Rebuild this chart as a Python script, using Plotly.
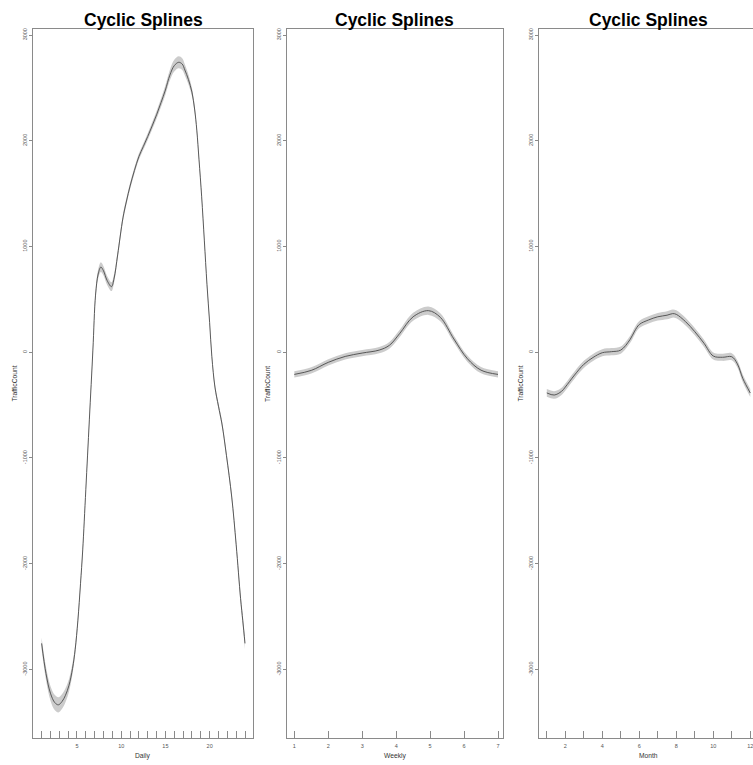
import plotly.graph_objects as go

# ---------------- data ----------------
daily_x = [1.0, 1.5, 2.0, 2.5, 2.9, 3.3, 3.7, 4.1, 4.5, 4.8, 5.1, 5.4, 5.65, 6.0, 6.4, 6.8,
           7.1, 7.4, 7.7, 8.0, 8.4, 8.9, 9.2, 9.6, 10.2, 10.6, 11.0, 11.5, 12.0, 12.5, 13.0,
           13.5, 14.0, 14.5, 15.0, 15.5, 16.0, 16.5, 16.9, 17.2, 17.6, 18.0, 18.3, 18.55,
           18.8, 19.1, 19.4, 19.7, 20.0, 20.25, 20.6, 21.0, 21.4, 21.9, 22.5, 23.0, 23.5,
           23.75, 24.0]
daily_fit = [-2754, -3040, -3225, -3315, -3335, -3305, -3245, -3150, -2990, -2810, -2540,
             -2190, -1870, -1300, -640, 20, 540, 740, 805, 770, 680, 620, 700, 920, 1270,
             1430, 1570, 1720, 1850, 1945, 2040, 2140, 2245, 2360, 2480, 2620, 2710, 2742,
             2725, 2669, 2580, 2460, 2300, 2100, 1820, 1470, 1060, 640, 280, -40, -330,
             -510, -680, -975, -1370, -1820, -2330, -2540, -2754]
daily_se = [55, 62, 68, 72, 72, 70, 66, 60, 52, 45, 40, 36, 32, 30, 30, 32, 38, 44, 46, 44,
            42, 42, 40, 36, 32, 30, 30, 30, 30, 30, 32, 34, 36, 40, 44, 50, 55, 56, 55, 52,
            46, 40, 36, 32, 30, 30, 30, 30, 30, 30, 30, 30, 30, 32, 34, 38, 44, 48, 55]

weekly_x = [1.0, 1.5, 2.0, 2.5, 3.0, 3.5, 3.8, 4.1, 4.5, 4.95, 5.3, 5.7, 6.1, 6.5, 7.0]
weekly_fit = [-210, -172, -96, -40, -8, 20, 65, 175, 335, 393, 330, 125, -62, -170, -210]
weekly_se = [30, 30, 30, 30, 30, 30, 32, 34, 38, 40, 38, 34, 30, 30, 30]

month_x = [1.0, 1.4, 1.8, 2.0, 2.5, 3.0, 3.5, 4.0, 4.5, 5.0, 5.5, 5.75, 6.0, 6.5, 7.0, 7.5,
           7.8, 8.0, 8.5, 9.0, 9.5, 10.0, 10.5, 11.0, 11.3, 11.6, 12.0]
month_fit = [-385, -405, -370, -330, -216, -115, -50, -5, 5, 20, 120, 200, 262, 305, 335,
             350, 365, 358, 289, 194, 84, -36, -48, -43, -110, -250, -386]
month_se = [36, 36, 34, 34, 34, 34, 34, 34, 34, 34, 34, 34, 34, 34, 36, 38, 38, 38, 36, 34,
            34, 34, 34, 34, 34, 36, 38]

panel_titles = ["Cyclic Splines", "Cyclic Splines", "Cyclic Splines"]
x_titles = ["Daily", "Weekly", "Month"]
y_title = "TrafficCount"
y_ticks = [-3000, -2000, -1000, 0, 1000, 2000, 3000]

daily_rug = list(range(1, 25))
daily_labels = [str(v) if v % 5 == 0 else "" for v in daily_rug]
weekly_rug = list(range(1, 8))
weekly_labels = [str(v) for v in weekly_rug]
month_rug = list(range(1, 13))
month_labels = [str(v) if v % 2 == 0 else "" for v in month_rug]

# ---------------- layout geometry (pixels) ----------------
W, H = 753, 765
panels_px = [(33.3, 252.7), (286.7, 502.7), (539.3, 753.0)]
x_ranges = [[0.062, 24.87], [0.776, 7.138], [0.595, 12.146]]
y_range = [-3646, 3054]
top_px, bot_px = 29.3, 737.7

FONT = "Liberation Sans, Arial, Helvetica, sans-serif"
BAND = "#cccccc"
LINE = "#4a4a4a"
AXIS = "#8a8a8a"
TICKTXT = "#555555"

fig = go.Figure()

series = [
    (daily_x, daily_fit, daily_se, daily_rug, daily_labels),
    (weekly_x, weekly_fit, weekly_se, weekly_rug, weekly_labels),
    (month_x, month_fit, month_se, month_rug, month_labels),
]

for i, (xs, fit, se, rug, labs) in enumerate(series):
    ax = "" if i == 0 else str(i + 1)
    xa, ya = "x" + ax, "y" + ax
    lo = [f - s for f, s in zip(fit, se)]
    hi = [f + s for f, s in zip(fit, se)]
    fig.add_trace(go.Scatter(x=xs, y=lo, mode="lines", line=dict(width=0, shape="spline", color=BAND),
                             xaxis=xa, yaxis=ya, showlegend=False, hoverinfo="skip"))
    fig.add_trace(go.Scatter(x=xs, y=hi, mode="lines", line=dict(width=0, shape="spline", color=BAND),
                             fill="tonexty", fillcolor=BAND,
                             xaxis=xa, yaxis=ya, showlegend=False, hoverinfo="skip"))
    fig.add_trace(go.Scatter(x=xs, y=fit, mode="lines", line=dict(width=0.9, shape="spline", color=LINE),
                             xaxis=xa, yaxis=ya, showlegend=False))

    x0, x1 = panels_px[i]
    fig.layout["xaxis" + ax] = dict(
        domain=[x0 / W, x1 / W], range=x_ranges[i], anchor=ya,
        showgrid=False, zeroline=False, showline=True, linecolor=AXIS, linewidth=1, mirror=True,
        ticks="inside", ticklen=6.5, tickcolor=AXIS, tickwidth=1,
        tickmode="array", tickvals=rug, ticktext=labs, ticklabelstandoff=3,
        ticklabeloverflow="allow",
        tickfont=dict(family=FONT, size=5.5, color=TICKTXT), automargin=False,
    )
    fig.layout["yaxis" + ax] = dict(
        domain=[1 - bot_px / H, 1 - top_px / H], range=y_range, anchor=xa,
        showgrid=False, zeroline=False, showline=True, linecolor=AXIS, linewidth=1,
        mirror=(i < 2),
        ticks="outside", ticklen=3, tickcolor=AXIS, tickwidth=1,
        tickmode="array", tickvals=y_ticks, ticktext=[str(v) for v in y_ticks],
        tickangle=-90, tickfont=dict(family=FONT, size=5.5, color=TICKTXT), automargin=False,
    )

annotations = []
title_centers = [143.0, 394.7, 648.3]
for i in range(3):
    x0, x1 = panels_px[i]
    annotations.append(dict(text="<b>%s</b>" % panel_titles[i], x=title_centers[i] / W, y=1 - 19.6 / H,
                            xref="paper", yref="paper", xanchor="center", yanchor="middle",
                            showarrow=False, font=dict(family=FONT, size=17.5, color="#000000")))
    xc = (x0 + x1) / 2 if i < 2 else 648.3
    annotations.append(dict(text=x_titles[i], x=xc / W, y=1 - 755.5 / H,
                            xref="paper", yref="paper", xanchor="center", yanchor="middle",
                            showarrow=False, font=dict(family=FONT, size=6.7, color="#333333")))
    annotations.append(dict(text=y_title, x=(x0 - 19.3) / W, y=1 - 383.5 / H,
                            xref="paper", yref="paper", xanchor="center", yanchor="middle",
                            textangle=-90, showarrow=False,
                            font=dict(family=FONT, size=6.7, color="#333333")))

fig.update_layout(
    width=W, height=H, margin=dict(l=0, r=0, t=0, b=0),
    paper_bgcolor="white", plot_bgcolor="white", template="none",
    annotations=annotations, hovermode=False,
)

fig.write_html("out.html")
